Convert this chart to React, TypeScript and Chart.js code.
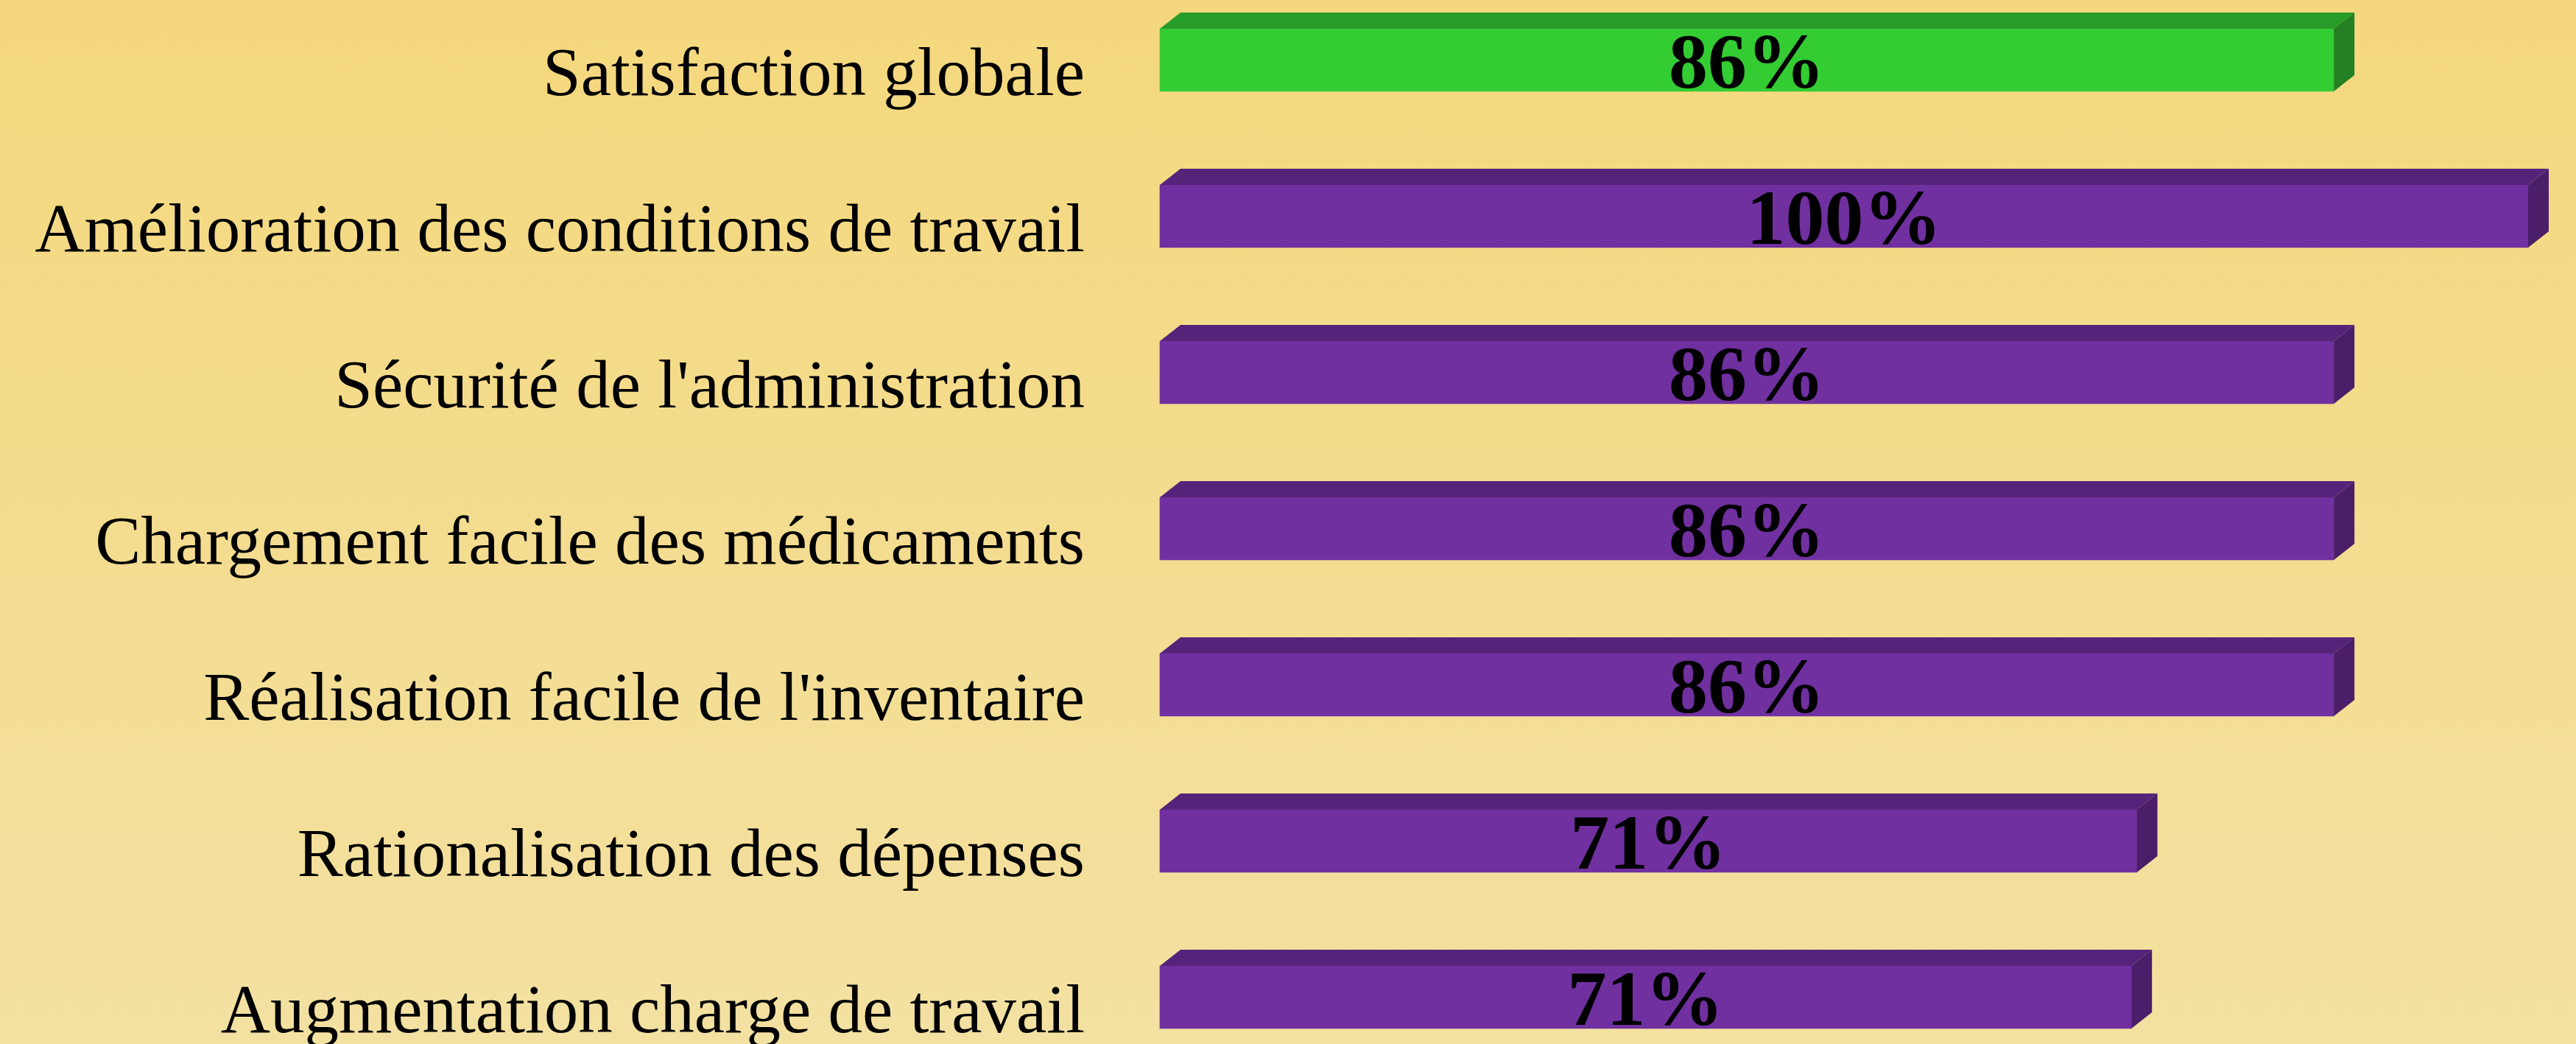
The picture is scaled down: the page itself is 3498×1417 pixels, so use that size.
import React, { useEffect, useRef } from "react";
import { Chart, registerables } from "chart.js";

Chart.register(...registerables);

const categories = [
  "Satisfaction globale",
  "Amélioration des conditions de travail",
  "Sécurité de l'administration",
  "Chargement facile des médicaments",
  "Réalisation facile de l'inventaire",
  "Rationalisation des dépenses",
  "Augmentation charge de travail",
];
const values = [85.8, 100, 85.8, 85.8, 85.8, 71.4, 71.0];
const frontColors = ["#33CC33", "#7030A0", "#7030A0", "#7030A0", "#7030A0", "#7030A0", "#7030A0"];
const topColors = ["#289C28", "#55247A", "#55247A", "#55247A", "#55247A", "#55247A", "#55247A"];
const sideColors = ["#238123", "#4A1E68", "#4A1E68", "#4A1E68", "#4A1E68", "#4A1E68", "#4A1E68"];

const W = 3498;
const H = 1417;
const FONT = "'Liberation Serif', 'Times New Roman', serif";

const bgPlugin = {
  id: "bgGradient",
  beforeDraw(chart: any) {
    const ctx = chart.ctx;
    const g = ctx.createLinearGradient(0, 0, 0, chart.height);
    g.addColorStop(0, "#F5D87D");
    g.addColorStop(1, "#F3E1A2");
    ctx.save();
    ctx.fillStyle = g;
    ctx.fillRect(0, 0, chart.width, chart.height);
    ctx.restore();
  },
};

const depthPlugin = {
  id: "bar3d",
  afterDatasetsDraw(chart: any) {
    const ctx = chart.ctx;
    const meta = chart.getDatasetMeta(0);
    const dx = 28;
    const dy = 22;
    ctx.save();
    meta.data.forEach((bar: any, i: number) => {
      const { x, y, base, height } = bar.getProps(["x", "y", "base", "height"], true);
      const top = y - height / 2;
      const bottom = y + height / 2;
      ctx.beginPath();
      ctx.moveTo(base, top);
      ctx.lineTo(base + dx, top - dy);
      ctx.lineTo(x + dx, top - dy);
      ctx.lineTo(x, top);
      ctx.closePath();
      ctx.fillStyle = topColors[i];
      ctx.fill();
      ctx.beginPath();
      ctx.moveTo(x, top);
      ctx.lineTo(x + dx, top - dy);
      ctx.lineTo(x + dx, bottom - dy);
      ctx.lineTo(x, bottom);
      ctx.closePath();
      ctx.fillStyle = sideColors[i];
      ctx.fill();
      ctx.fillStyle = "#000000";
      ctx.font = `bold 106px ${FONT}`;
      ctx.textAlign = "center";
      ctx.textBaseline = "middle";
      ctx.fillText(`${Math.round(values[i])}%`, (base + x) / 2, y + 10);
    });
    ctx.restore();
  },
};

export default function App() {
  const ref = useRef<HTMLCanvasElement | null>(null);

  useEffect(() => {
    document.body.style.margin = "0";
    const canvas = ref.current;
    if (!canvas) return;
    const chart = new Chart(canvas, {
      type: "bar",
      data: {
        labels: categories,
        datasets: [
          {
            data: values,
            backgroundColor: frontColors,
            borderWidth: 0,
            barThickness: 85,
            clip: false as any,
          },
        ],
      },
      options: {
        indexAxis: "y",
        animation: false,
        responsive: false,
        devicePixelRatio: 1,
        layout: { padding: { top: 81.5, bottom: 63.5, right: 65, left: 0 } },
        plugins: {
          legend: { display: false },
          tooltip: { enabled: false },
        },
        scales: {
          x: {
            type: "linear",
            min: 0,
            max: 100,
            display: false,
          },
          y: {
            type: "category",
            offset: false,
            grid: { display: false },
            border: { display: false },
            ticks: {
              color: "#000000",
              font: { family: FONT, size: 93 },
              padding: 94,
              labelOffset: 23,
              autoSkip: false,
            },
            afterFit(scale: any) {
              scale.width = 1575;
              scale.paddingTop = 0;
              scale.paddingBottom = 0;
            },
          },
        },
      },
      plugins: [bgPlugin, depthPlugin],
    });
    return () => chart.destroy();
  }, []);

  return (
    <div style={{ width: W, height: H }}>
      <canvas ref={ref} width={W} height={H} style={{ display: "block", width: W, height: H }} />
    </div>
  );
}
